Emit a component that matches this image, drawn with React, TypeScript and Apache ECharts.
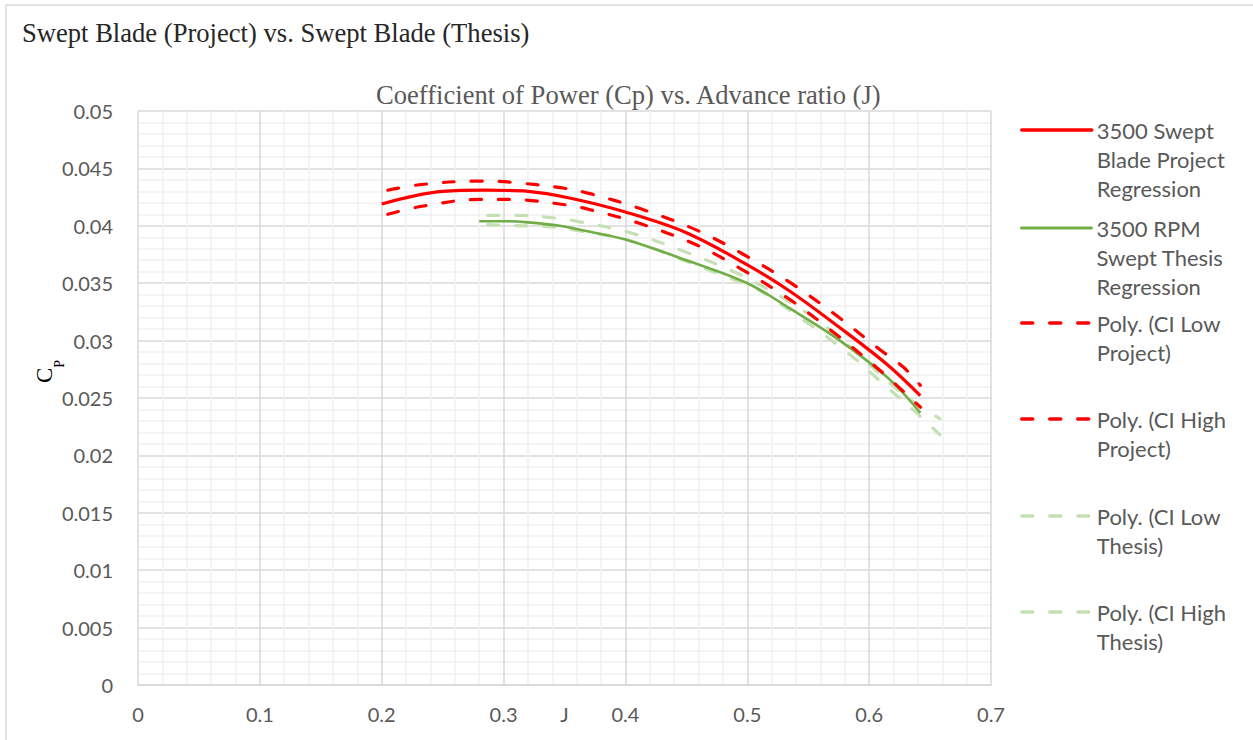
import React, { useEffect, useRef } from "react";
import * as echarts from "echarts";

// ---- Data ----
const J_PROJ = [0.2, 0.25, 0.285, 0.32, 0.355, 0.4, 0.45, 0.5, 0.535, 0.575, 0.615, 0.642];
const CP_PROJ = [0.0419, 0.043, 0.0431, 0.043, 0.0424, 0.0412, 0.0394, 0.0366, 0.0343, 0.0312, 0.0279, 0.0252];

const J_PROJ_HIGH = [0.205, 0.233, 0.28, 0.305, 0.348, 0.371, 0.412, 0.459, 0.497, 0.536, 0.573, 0.609, 0.628, 0.642];
const CP_PROJ_HIGH = [0.0431, 0.0436, 0.0439, 0.0438, 0.0433, 0.0428, 0.0415, 0.0396, 0.0375, 0.035, 0.0322, 0.0292, 0.0277, 0.0261];

const J_PROJ_LOW = [0.205, 0.233, 0.28, 0.305, 0.353, 0.371, 0.412, 0.459, 0.494, 0.536, 0.571, 0.609, 0.642];
const CP_PROJ_LOW = [0.041, 0.0417, 0.0423, 0.0423, 0.0418, 0.0414, 0.0402, 0.0383, 0.0363, 0.0335, 0.0307, 0.0274, 0.0242];

const J_THESIS = [0.28, 0.3, 0.32, 0.346, 0.37, 0.4, 0.45, 0.5, 0.535, 0.576, 0.617, 0.642];
const CP_THESIS = [0.0404, 0.0404, 0.0403, 0.04, 0.0395, 0.0388, 0.037, 0.035, 0.0328, 0.03, 0.0266, 0.0237];

const J_THESIS_HIGH = [0.287, 0.315, 0.34, 0.36, 0.404, 0.45, 0.489, 0.508, 0.549, 0.584, 0.617, 0.636, 0.658];
const CP_THESIS_HIGH = [0.0409, 0.0409, 0.0407, 0.0404, 0.0394, 0.0377, 0.036, 0.035, 0.0324, 0.0295, 0.0263, 0.0247, 0.0232];

const J_THESIS_LOW = [0.287, 0.315, 0.34, 0.36, 0.404, 0.45, 0.489, 0.505, 0.546, 0.584, 0.614, 0.639, 0.658];
const CP_THESIS_LOW = [0.0401, 0.04, 0.0399, 0.0396, 0.0387, 0.0369, 0.0353, 0.0347, 0.0318, 0.0288, 0.026, 0.0237, 0.0218];

const X_TICKS = ["0", "0.1", "0.2", "0.3", "0.4", "0.5", "0.6", "0.7"];

const TITLE = "Swept Blade (Project) vs. Swept Blade (Thesis)";
const SUBTITLE = "Coefficient of Power (Cp) vs. Advance ratio (J)";
const X_NAME = "J";

const NAMES = [
  "3500 Swept Blade Project Regression",
  "3500 RPM Swept Thesis Regression",
  "Poly. (CI Low Project)",
  "Poly. (CI High Project)",
  "Poly. (CI Low Thesis)",
  "Poly. (CI High Thesis)",
];
const LEGEND_LINES: Record<string, string[]> = {
  [NAMES[0]]: ["3500 Swept", "Blade Project", "Regression"],
  [NAMES[1]]: ["3500 RPM", "Swept Thesis", "Regression"],
  [NAMES[2]]: ["Poly. (CI Low", "Project)"],
  [NAMES[3]]: ["Poly. (CI High", "Project)"],
  [NAMES[4]]: ["Poly. (CI Low", "Thesis)"],
  [NAMES[5]]: ["Poly. (CI High", "Thesis)"],
};
const LEGEND_Y = [130, 228, 323, 419, 516, 612];

const zip = (xs: number[], ys: number[]) => xs.map((x, i) => [x, ys[i]]);

const RED = "#FF0000";
const GREEN = "#70AD47";
const LIGHT_GREEN = "#C5E0B4";
const LEGEND_LH = 29;
const SANS = "Lato, 'Open Sans', sans-serif";
const SERIF = "'Liberation Serif', 'Times New Roman', serif";

export default function App() {
  const ref = useRef<HTMLDivElement>(null);
  useEffect(() => {
    if (!ref.current) return;
    const chart = echarts.init(ref.current, undefined, { renderer: "svg" });

    const dashed = (color: string) => ({
      color,
      width: 3.2,
      type: [11, 17] as any,
      cap: "round" as any,
    });

    const series: any[] = [
      { name: NAMES[4], data: zip(J_THESIS_LOW, CP_THESIS_LOW), lineStyle: dashed(LIGHT_GREEN), color: LIGHT_GREEN },
      { name: NAMES[5], data: zip(J_THESIS_HIGH, CP_THESIS_HIGH), lineStyle: dashed(LIGHT_GREEN), color: LIGHT_GREEN },
      { name: NAMES[1], data: zip(J_THESIS, CP_THESIS), lineStyle: { color: GREEN, width: 2.6 }, color: GREEN },
      { name: NAMES[2], data: zip(J_PROJ_LOW, CP_PROJ_LOW), lineStyle: dashed(RED), color: RED },
      { name: NAMES[3], data: zip(J_PROJ_HIGH, CP_PROJ_HIGH), lineStyle: dashed(RED), color: RED },
      { name: NAMES[0], data: zip(J_PROJ, CP_PROJ), lineStyle: { color: RED, width: 3.2 }, color: RED },
    ].map((s) => ({
      ...s,
      type: "line",
      smooth: 0.35,
      showSymbol: false,
      symbol: "none",
    }));

    const legends = NAMES.map((name, i) => {
      const n = LEGEND_LINES[name].length;
      const total = 2 * n - 1;
      return {
        data: [name],
        orient: "vertical",
        left: 1020,
        top: LEGEND_Y[i] - (total * LEGEND_LH) / 2,
        padding: 0,
        itemWidth: 70,
        itemHeight: 14,
        selectedMode: false,
        itemStyle: { opacity: 0 },
        lineStyle: { width: i === 1 ? 3 : 3.5, cap: "round" },
        formatter: () => {
          const lines = LEGEND_LINES[name];
          return new Array(n - 1).fill("").concat(lines).join("\n");
        },
        textStyle: {
          fontFamily: SANS,
          fontSize: 22,
          lineHeight: LEGEND_LH,
          color: "#595959",
        },
      };
    });

    chart.setOption({
      animation: false,
      backgroundColor: "#ffffff",
      title: [
        {
          text: TITLE,
          left: 22,
          top: 19,
          padding: 0,
          textStyle: { fontFamily: SERIF, fontSize: 26.6, fontWeight: "normal", color: "#262626" },
        },
        {
          text: SUBTITLE,
          left: 376,
          top: 81,
          padding: 0,
          textStyle: { fontFamily: SERIF, fontSize: 26.6, fontWeight: "normal", color: "#595959" },
        },
      ],
      legend: legends,
      graphic: [
        {
          type: "rect",
          shape: { x: 6, y: 5, width: 1400, height: 900 },
          style: { fill: "none", stroke: "#d9d9d9", lineWidth: 1.5 },
          silent: true,
          z: -1,
        },
        {
          type: "text",
          x: 33,
          y: 383,
          rotation: Math.PI / 2,
          silent: true,
          style: {
            text: "{c|C}{p|P}",
            align: "left",
            verticalAlign: "top",
            rich: {
              c: { fontFamily: SERIF, fontSize: 23, lineHeight: 22, color: "#595959", verticalAlign: "top" },
              p: {
                fontFamily: SERIF,
                fontSize: 14,
                lineHeight: 14,
                color: "#595959",
                verticalAlign: "top",
                padding: [19, 0, 0, 0],
              },
            },
          },
        },
      ],
      grid: { left: 138, right: 262, top: 111, bottom: 55, containLabel: false, outerBoundsMode: "none" },
      xAxis: {
        type: "value",
        min: 0,
        max: 0.7,
        interval: 0.1,
        name: X_NAME,
        nameLocation: "middle",
        nameGap: 19,
        nameMoveOverlap: false,
        nameTextStyle: { fontFamily: SANS, fontSize: 20, color: "#595959", verticalAlign: "top" },
        axisLine: { show: true, lineStyle: { color: "#d9d9d9", width: 1.5 } },
        axisTick: { show: false },
        axisLabel: {
          margin: 19,
          fontFamily: SANS,
          fontSize: 20,
          color: "#595959",
          formatter: (v: number) => X_TICKS[Math.round(v * 10)] ?? String(v),
        },
        splitLine: { show: true, lineStyle: { color: "#d9d9d9", width: 1.5 } },
        minorTick: { show: false, splitNumber: 5 },
        minorSplitLine: { show: true, lineStyle: { color: "#f0f0f0", width: 1.5 } },
      },
      yAxis: {
        type: "value",
        min: 0,
        max: 0.05,
        interval: 0.005,
        axisLine: { show: false },
        axisTick: { show: false },
        axisLabel: {
          margin: 25,
          fontFamily: SANS,
          fontSize: 20,
          color: "#595959",
          formatter: (v: number) => String(parseFloat(v.toFixed(3))),
        },
        splitLine: { show: true, lineStyle: { color: "#d9d9d9", width: 1.5 } },
        minorTick: { show: false, splitNumber: 5 },
        minorSplitLine: { show: true, lineStyle: { color: "#f0f0f0", width: 1.5 } },
      },
      series,
    });

    return () => chart.dispose();
  }, []);

  return (
    <div
      ref={ref}
      style={{ position: "fixed", left: 0, top: 0, width: 1253, height: 740, background: "#fff" }}
    />
  );
}
